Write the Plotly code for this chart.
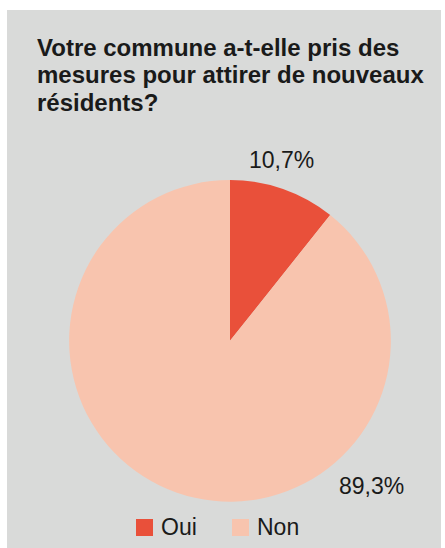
import plotly.graph_objects as go

# ---- data ----
categories = ["Oui", "Non"]
values = [10.7, 89.3]
colors = ["#e9503a", "#f8c4ae"]
title_lines = ["Votre commune a-t-elle pris des",
               "mesures pour attirer de nouveaux",
               "résidents?"]

W, H = 445, 548
FONT = "Liberation Sans, Arial, Helvetica, sans-serif"
TXT = "#1a1a1a"

def px(x):
    return x / W

def py(y):
    return 1 - y / H

fig = go.Figure()
fig.add_trace(go.Pie(
    labels=categories,
    values=values,
    marker=dict(colors=colors, line=dict(width=0)),
    sort=False,
    direction="clockwise",
    rotation=0,
    textinfo="none",
    hoverinfo="label+percent",
    showlegend=False,
    domain=dict(x=[px(69), px(391)], y=[py(501.7), py(180)]),
))

def fmt(v):
    return f"{v:.1f}".replace(".", ",") + "%"

annotations = []
# title lines
for i, line in enumerate(title_lines):
    annotations.append(dict(
        text=f"<b>{line}</b>", x=px(35), y=py(47 + i * 27.5),
        xref="paper", yref="paper", xanchor="left", yanchor="middle",
        showarrow=False, font=dict(family=FONT, size=24, color=TXT),
    ))

# value labels
label_pos = [(281, 160), (371, 486)]
for v, (lx, ly) in zip(values, label_pos):
    annotations.append(dict(
        text=fmt(v), x=px(lx), y=py(ly), xref="paper", yref="paper",
        xanchor="center", yanchor="middle", showarrow=False,
        font=dict(family=FONT, size=23, color=TXT),
    ))

shapes = [dict(type="rect", xref="paper", yref="paper",
               x0=px(7), x1=px(441), y0=0, y1=py(10),
               fillcolor="#d9dad9", line=dict(width=0), layer="below")]

# legend (custom, larger squares)
leg_x = [136, 232]
for cat, col, lx in zip(categories, colors, leg_x):
    shapes.append(dict(type="rect", xref="paper", yref="paper",
                       x0=px(lx), x1=px(lx + 17), y0=py(536), y1=py(519),
                       fillcolor=col, line=dict(width=0)))
    annotations.append(dict(
        text=cat, x=px(lx + 23), y=py(527), xref="paper", yref="paper",
        xanchor="left", yanchor="middle", showarrow=False,
        font=dict(family=FONT, size=23, color=TXT),
    ))

fig.update_layout(
    width=W, height=H,
    margin=dict(l=0, r=0, t=0, b=0),
    paper_bgcolor="white",
    plot_bgcolor="white",
    annotations=annotations,
    shapes=shapes,
    showlegend=False,
)

fig.write_html("out.html")
